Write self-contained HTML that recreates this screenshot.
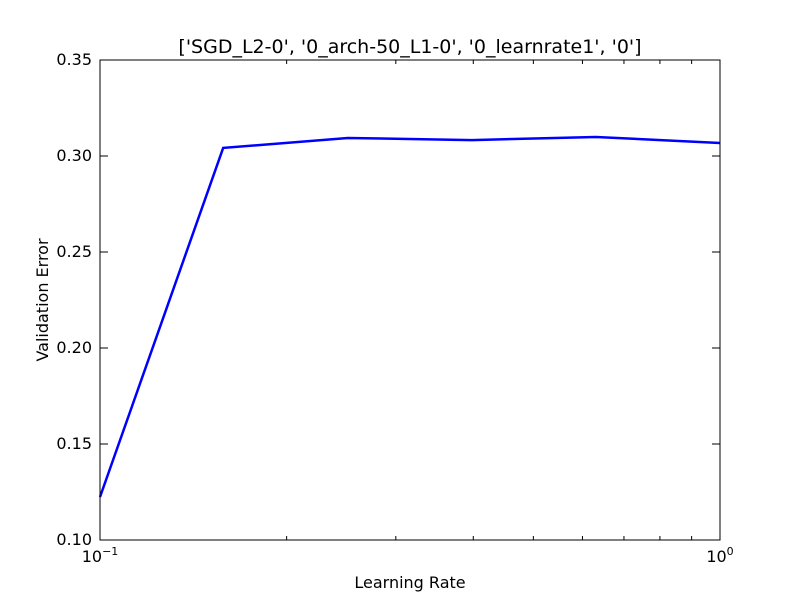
<!DOCTYPE html>
<html><head><meta charset="utf-8"><style>
body{margin:0;background:#fff;}
svg{display:block;font-family:"DejaVu Sans","Liberation Sans",sans-serif;}
</style></head><body>
<svg id="chart" width="800" height="600" xmlns="http://www.w3.org/2000/svg">
<rect width="800" height="600" fill="#fff"/>
<g id="g"></g>
</svg>
<script>
const learningRates = [0.1, 0.158, 0.251, 0.398, 0.631, 1.0];
const validationErrors = [0.1224, 0.3042, 0.3094, 0.3083, 0.3099, 0.3068];
const yTicks = [0.10, 0.15, 0.20, 0.25, 0.30, 0.35];
const yTickLabels = ["0.10","0.15","0.20","0.25","0.30","0.35"];
const xMajor = [0.1, 1];
const xMinor = [0.2,0.3,0.4,0.5,0.6,0.7,0.8,0.9];

const L=100,R=720,T=60,B=540;
const xs=v=>L+(Math.log10(v)+1)*(R-L);
const ys=v=>B-(v-0.10)/0.25*(B-T);
const NS="http://www.w3.org/2000/svg";
const g=document.getElementById('g');
function mk(t,a,txt){const e=document.createElementNS(NS,t);for(const k in a)e.setAttribute(k,a[k]);if(txt!==undefined)e.textContent=txt;g.appendChild(e);return e;}

let d=learningRates.map((x,i)=>(i?'L':'M')+xs(x)+' '+ys(validationErrors[i])).join(' ');
const line=mk('path',{d:d,fill:'none',stroke:'#0000ff','stroke-width':2.5});



const frame=mk('rect',{x:L,y:T,width:R-L,height:B-T,fill:'none',stroke:'#000','stroke-width':1});



yTicks.forEach((v,i)=>{const y=ys(v);
 mk('line',{x1:L,x2:L+8,y1:y,y2:y,stroke:'#000'});
 mk('line',{x1:R,x2:R-8,y1:y,y2:y,stroke:'#000'});
 const t=mk('text',{x:L-8,y:y+5,'text-anchor':'end','font-size':16},yTickLabels[i]);
 
 
});
xMajor.forEach(v=>{const x=xs(v);
 mk('line',{x1:x,x2:x,y1:B,y2:B-8,stroke:'#000'});
 mk('line',{x1:x,x2:x,y1:T,y2:T+8,stroke:'#000'});
 const t=mk('text',{x:x,y:B+22,'text-anchor':'middle','font-size':16});
 
 
 t.textContent='10';
 const s=document.createElementNS(NS,'tspan');s.setAttribute('dy','-7');s.setAttribute('font-size','11');s.textContent=v<1?'−1':'0';t.appendChild(s);
});
xMinor.forEach(v=>{const x=xs(v);
 mk('line',{x1:x,x2:x,y1:B,y2:B-4,stroke:'#000'});
 mk('line',{x1:x,x2:x,y1:T,y2:T+4,stroke:'#000'});
});
const title=mk('text',{x:410,y:53,'text-anchor':'middle','font-size':19},"['SGD_L2-0', '0_arch-50_L1-0', '0_learnrate1', '0']");


const xl=mk('text',{x:410,y:588,'text-anchor':'middle','font-size':16},'Learning Rate');


const yl=mk('text',{x:48,y:300,'text-anchor':'middle','font-size':16,transform:'rotate(-90 48 300)'},'Validation Error');


</script>
</body></html>
